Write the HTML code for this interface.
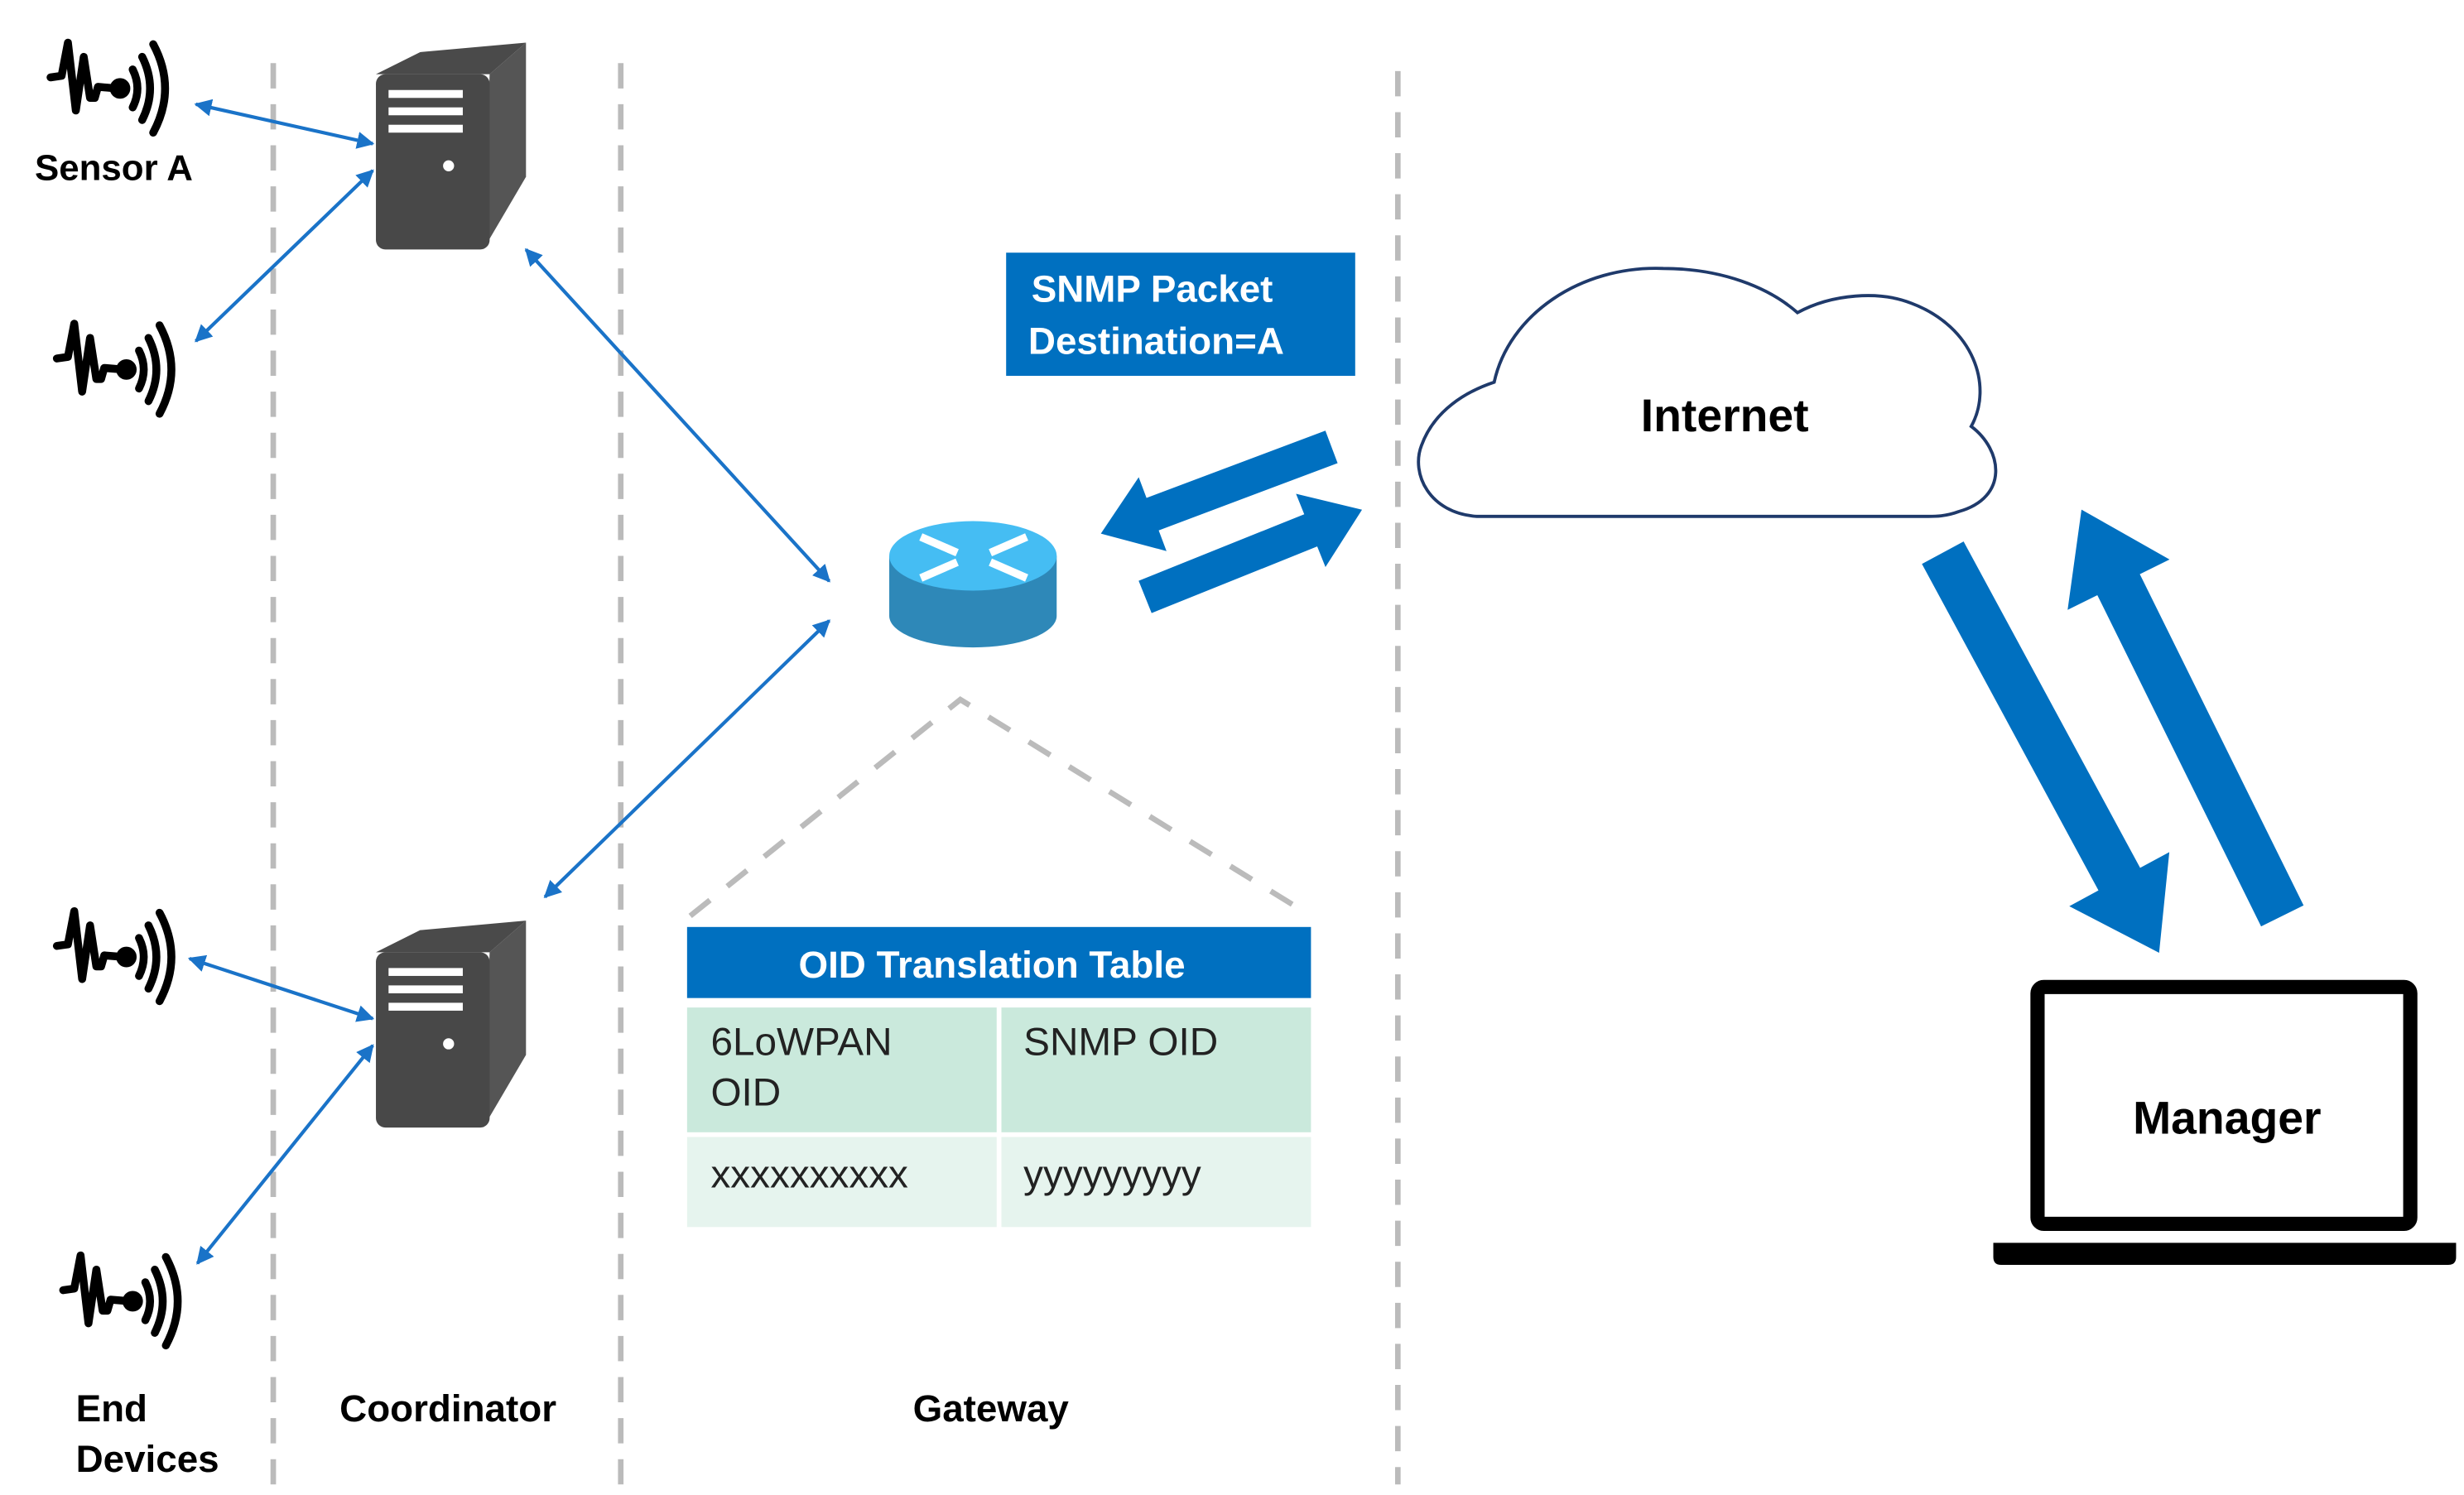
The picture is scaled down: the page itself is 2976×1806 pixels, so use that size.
<!DOCTYPE html>
<html><head><meta charset="utf-8"><style>html,body{margin:0;padding:0;background:#fff}svg{display:block}</style></head>
<body>
<svg width="2976" height="1806" viewBox="0 0 1560 946.7" xmlns="http://www.w3.org/2000/svg" font-family="Liberation Sans, Arial, sans-serif">
<defs>
<marker id="ah" viewBox="0 0 10 10" refX="9" refY="5" markerWidth="5" markerHeight="5" orient="auto-start-reverse"><path d="M0,0 L10,5 L0,10 z" fill="#1a73c8"/></marker>
<g id="sensor" fill="none" stroke="#000" stroke-width="5" stroke-linejoin="round" stroke-linecap="round">
<path d="M0,27 L7,26 L11,5 L16,48 L21,14 L25,40 L28,40 L30,33 L42,34"/>
<circle cx="44" cy="34" r="4" fill="#000"/>
<path d="M52,22 Q58,34 52,46"/><path d="M58,14 Q68,34 58,54"/><path d="M65,6 Q80,34 65,62"/>
</g>
<g id="server">
<polygon points="0,20 28,6 95,0 72,20" fill="#4a4a4a"/>
<polygon points="72,20 95,0 95,85 68,131" fill="#555"/>
<rect x="0" y="20" width="72" height="111" rx="6" fill="#484848"/>
<rect x="8" y="30" width="47" height="5" fill="#fff"/><rect x="8" y="41" width="47" height="5" fill="#fff"/><rect x="8" y="52" width="47" height="5" fill="#fff"/>
<circle cx="46" cy="78" r="3.5" fill="#fff"/>
</g>
</defs>

<g stroke="#bbb" stroke-width="3.5" stroke-dasharray="16,10">
<line x1="173" y1="40" x2="173" y2="940"/><line x1="393" y1="40" x2="393" y2="940"/><line x1="885" y1="45" x2="885" y2="940"/>
</g>

<use href="#sensor" x="32" y="22"/>
<use href="#sensor" x="36" y="200"/>
<use href="#sensor" x="36" y="572"/>
<use href="#sensor" x="40" y="790"/>
<text x="22" y="114" font-size="23" font-weight="bold" fill="#000">Sensor A</text>

<use href="#server" x="238" y="27"/>
<use href="#server" x="238" y="583"/>

<g stroke="#1a73c8" stroke-width="2.2" marker-start="url(#ah)" marker-end="url(#ah)">
<line x1="124" y1="66" x2="236" y2="91"/>
<line x1="124" y1="216" x2="236" y2="108"/>
<line x1="333" y1="158" x2="525" y2="368"/>
<line x1="525" y1="393" x2="345" y2="568"/>
<line x1="120" y1="607" x2="236" y2="645"/>
<line x1="236" y1="662" x2="125" y2="800"/>
</g>

<path d="M563,352 L563,390 A53,20 0 0 0 669,390 L669,352 Z" fill="#2e88b8"/>
<ellipse cx="616" cy="352" rx="53" ry="22" fill="#45bdf3"/>
<g stroke="#fff" stroke-width="5" fill="none">
<path d="M583,340 L606,350"/><path d="M650,340 L627,350"/><path d="M583,366 L606,356"/><path d="M650,366 L627,356"/>
</g>

<rect x="637" y="160" width="221" height="78" fill="#0070c0"/>
<text x="653" y="191" font-size="24" font-weight="bold" fill="#fff">SNMP Packet</text>
<text x="651" y="224" font-size="24" font-weight="bold" fill="#fff">Destination=A</text>

<g fill="#0070c0">
<path transform="translate(843,283) rotate(159.4)" d="M0,-11 L121,-11 L121,-25 L156,0 L121,25 L121,11 L0,11 Z"/>
<path transform="translate(725,378) rotate(-21.9)" d="M0,-11 L113,-11 L113,-25 L148,0 L113,25 L113,11 L0,11 Z"/>
<path transform="translate(1230,350) rotate(61.6)" d="M0,-15 L235,-15 L235,-36 L288,0 L235,36 L235,15 L0,15 Z"/>
<path transform="translate(1445,580) rotate(-116.3)" d="M0,-15 L234,-15 L234,-36 L287,0 L234,36 L234,15 L0,15 Z"/>
</g>

<path d="M935,327 C905,325 893,300 900,282 C908,260 928,248 946,242 C955,200 1000,168 1053,170 C1090,170 1120,182 1138,198 C1160,186 1190,184 1210,192 C1250,207 1262,245 1248,270 C1268,285 1272,315 1240,324 C1232,327 1225,327 1221,327 Z" fill="#fff" stroke="#1f3a6b" stroke-width="2"/>
<text x="1092" y="273" font-size="29" font-weight="bold" text-anchor="middle" fill="#000">Internet</text>

<rect x="1290" y="625" width="236" height="150" rx="4" fill="#fff" stroke="#000" stroke-width="9"/>
<path d="M1262,787 L1555,787 L1555,796 Q1555,801 1550,801 L1267,801 Q1262,801 1262,796 Z" fill="#000"/>
<text x="1410" y="718" font-size="29" font-weight="bold" text-anchor="middle" fill="#000">Manager</text>

<polyline points="437,580 608,443 830,580" fill="none" stroke="#bbb" stroke-width="3.5" stroke-dasharray="16,14"/>

<rect x="435" y="587" width="395" height="45" fill="#0070c0"/>
<text x="628" y="619" font-size="24" font-weight="bold" text-anchor="middle" fill="#fff">OID Translation Table</text>
<rect x="435" y="638" width="196" height="79" fill="#cae9dc"/>
<rect x="634" y="638" width="196" height="79" fill="#cae9dc"/>
<rect x="435" y="720" width="196" height="57" fill="#e6f4ee"/>
<rect x="634" y="720" width="196" height="57" fill="#e6f4ee"/>
<g font-size="25" fill="#222">
<text x="450" y="668">6LoWPAN</text><text x="450" y="700">OID</text>
<text x="648" y="668">SNMP OID</text>
<text x="450" y="752">xxxxxxxxxx</text>
<text x="648" y="752">yyyyyyyyy</text>
</g>

<g font-size="24" font-weight="bold" fill="#000">
<text x="48" y="900">End</text><text x="48" y="932">Devices</text>
<text x="215" y="900">Coordinator</text>
<text x="578" y="900">Gateway</text>
</g>
</svg>
</body></html>
